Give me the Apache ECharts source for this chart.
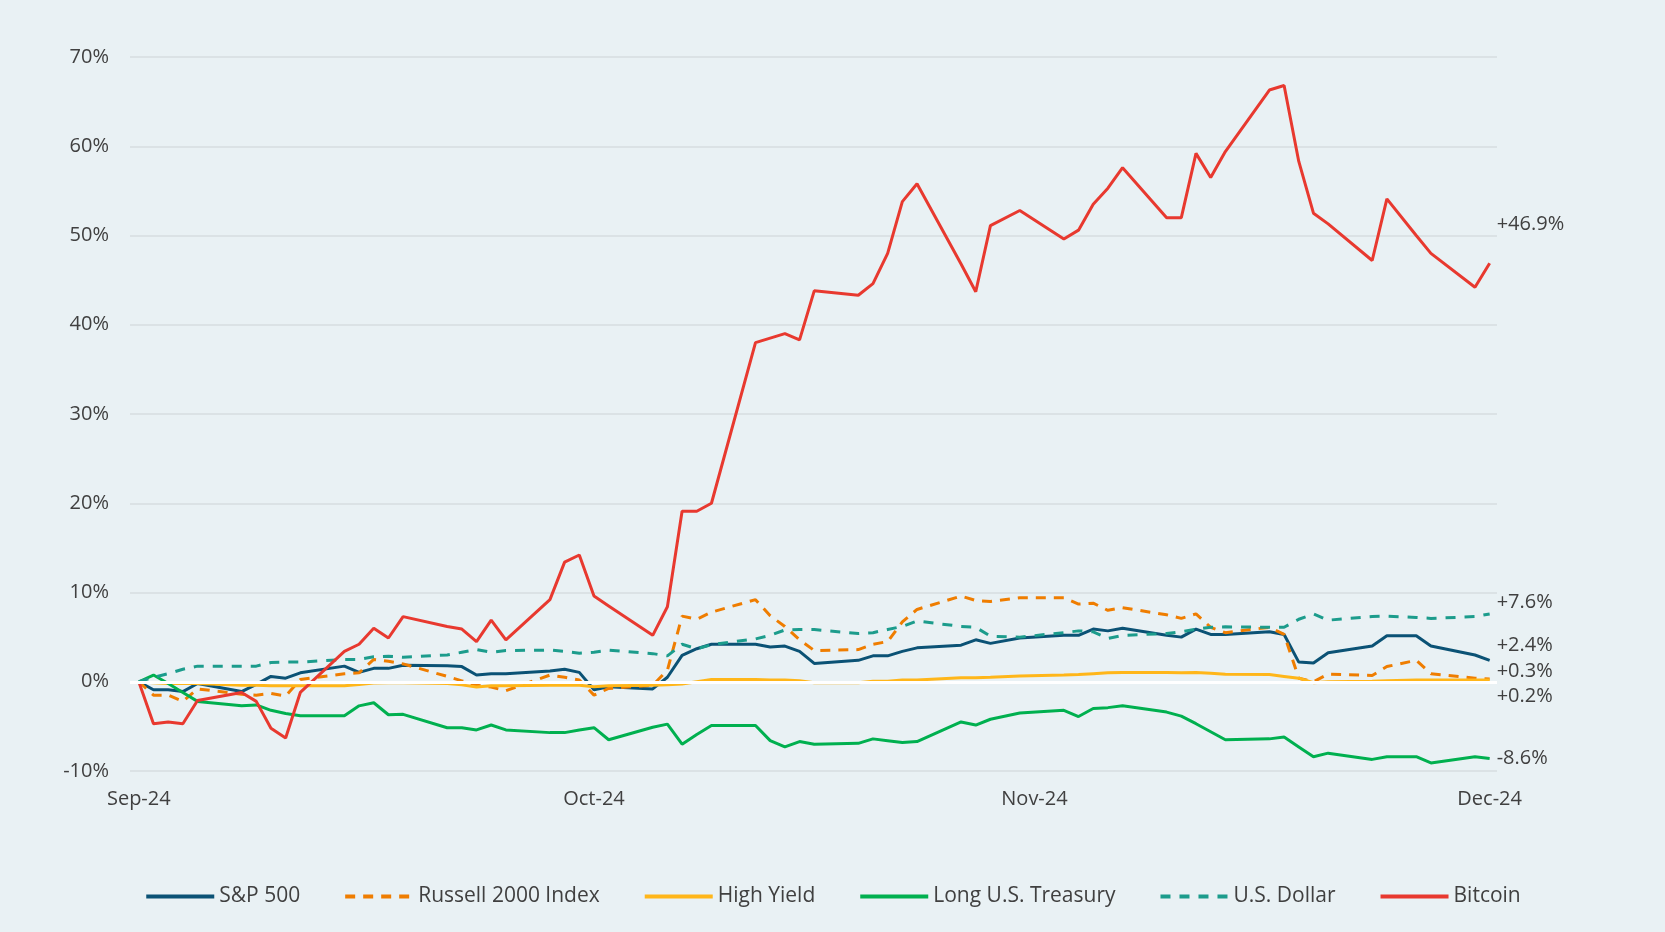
<!DOCTYPE html>
<html>
<head>
<meta charset="utf-8">
<title>Q4 2024 returns</title>
<script src="https://cdn.jsdelivr.net/npm/echarts@6/dist/echarts.min.js"></script>
<style>
  html, body { margin: 0; padding: 0; background: #e9f1f4; }
  #chart { width: 1665px; height: 932px; }
</style>
</head>
<body>
<div id="chart"></div>
<script>
// trading days, Sep 30 - Dec 31 2024
var dates = [
  "2024-09-30", "2024-10-01", "2024-10-02", "2024-10-03", "2024-10-04",
  "2024-10-07", "2024-10-08", "2024-10-09", "2024-10-10", "2024-10-11",
  "2024-10-14", "2024-10-15", "2024-10-16", "2024-10-17", "2024-10-18",
  "2024-10-21", "2024-10-22", "2024-10-23", "2024-10-24", "2024-10-25",
  "2024-10-28", "2024-10-29", "2024-10-30", "2024-10-31", "2024-11-01",
  "2024-11-04", "2024-11-05", "2024-11-06", "2024-11-07", "2024-11-08",
  "2024-11-11", "2024-11-12", "2024-11-13", "2024-11-14", "2024-11-15",
  "2024-11-18", "2024-11-19", "2024-11-20", "2024-11-21", "2024-11-22",
  "2024-11-25", "2024-11-26", "2024-11-27", "2024-11-29",
  "2024-12-02", "2024-12-03", "2024-12-04", "2024-12-05", "2024-12-06",
  "2024-12-09", "2024-12-10", "2024-12-11", "2024-12-12", "2024-12-13",
  "2024-12-16", "2024-12-17", "2024-12-18", "2024-12-19", "2024-12-20",
  "2024-12-23", "2024-12-24", "2024-12-26", "2024-12-27",
  "2024-12-30", "2024-12-31"
];

// cumulative return, %
var sp500 = [
  0, -0.9, -0.9, -1.1, -0.2, -1.1, -0.3, 0.6, 0.4, 1.0,
  1.75, 1.05, 1.5, 1.5, 1.85, 1.8, 1.7, 0.75, 0.9, 0.9,
  1.2, 1.4, 1.05, -0.9, -0.55, -0.8, 0.5, 2.95, 3.7, 4.2,
  4.2, 3.9, 4.0, 3.4, 2.05, 2.4, 2.9, 2.9, 3.4, 3.8,
  4.1, 4.7, 4.3, 4.9, 5.2, 5.2, 5.9, 5.7, 6.0,
  5.2, 5.0, 5.9, 5.3, 5.3, 5.6, 5.3, 2.2, 2.1, 3.25,
  4.0, 5.15, 5.15, 4.0, 3.0, 2.4
];
var russell = [
  0, -1.5, -1.5, -2.2, -0.8, -1.4, -1.5, -1.3, -1.6, 0.25,
  0.9, 1.0, 2.5, 2.3, 2.0, 0.6, 0.1, -0.4, -0.6, -1.0,
  0.75, 0.5, 0.2, -1.5, -0.75, -0.4, 1.3, 7.35, 7.0, 7.8,
  9.2, 7.4, 6.2, 4.7, 3.5, 3.6, 4.2, 4.5, 6.7, 8.1,
  9.6, 9.1, 9.0, 9.4, 9.4, 8.7, 8.8, 8.0, 8.3,
  7.5, 7.1, 7.6, 6.1, 5.5, 6.1, 5.3, 0.4, 0.0, 0.86,
  0.7, 1.7, 2.4, 0.9, 0.4, 0.3
];
var highYield = [
  0, -0.1, -0.2, -0.2, -0.2, -0.4, -0.4, -0.45, -0.45, -0.45,
  -0.45, -0.3, -0.15, -0.1, -0.1, -0.2, -0.35, -0.6, -0.45, -0.45,
  -0.4, -0.4, -0.4, -0.55, -0.45, -0.4, -0.35, -0.25, 0.0, 0.25,
  0.25, 0.2, 0.2, 0.1, -0.1, -0.1, 0.05, 0.05, 0.2, 0.2,
  0.45, 0.45, 0.5, 0.65, 0.75, 0.8, 0.9, 1.0, 1.05,
  1.05, 1.0, 1.05, 0.95, 0.85, 0.8, 0.6, 0.4, -0.1, 0.0,
  0.05, 0.1, 0.2, 0.2, 0.2, 0.2
];
var longTreasury = [
  0, 0.75, -0.2, -1.2, -2.2, -2.7, -2.6, -3.2, -3.55, -3.8,
  -3.8, -2.7, -2.35, -3.7, -3.65, -5.15, -5.15, -5.4, -4.85, -5.4,
  -5.7, -5.7, -5.4, -5.15, -6.5, -5.1, -4.75, -7.0, -5.9, -4.9,
  -4.9, -6.6, -7.3, -6.7, -7.0, -6.9, -6.4, -6.6, -6.8, -6.7,
  -4.5, -4.85, -4.2, -3.5, -3.2, -3.9, -3.0, -2.9, -2.7,
  -3.4, -3.85, -4.7, -5.6, -6.5, -6.4, -6.2, -7.3, -8.4, -8.0,
  -8.7, -8.4, -8.4, -9.1, -8.4, -8.6
];
var usDollar = [
  0, 0.5, 0.9, 1.4, 1.75, 1.75, 1.75, 2.15, 2.2, 2.2,
  2.5, 2.5, 2.8, 2.85, 2.75, 3.0, 3.3, 3.6, 3.3, 3.5,
  3.55, 3.4, 3.2, 3.3, 3.55, 3.15, 2.9, 4.2, 3.7, 4.15,
  4.8, 5.2, 5.8, 5.85, 5.85, 5.4, 5.5, 5.85, 6.2, 6.8,
  6.2, 6.1, 5.1, 5.0, 5.5, 5.7, 5.6, 4.85, 5.2,
  5.4, 5.6, 5.9, 6.1, 6.15, 6.1, 6.1, 7.0, 7.6, 6.9,
  7.3, 7.35, 7.2, 7.1, 7.3, 7.6
];
var bitcoin = [
  0, -4.7, -4.5, -4.7, -2.1, -1.2, -2.2, -5.2, -6.3, -1.2,
  3.4, 4.2, 6.0, 4.9, 7.3, 6.2, 5.9, 4.5, 6.9, 4.7,
  9.2, 13.4, 14.2, 9.6, 8.5, 5.2, 8.4, 19.1, 19.1, 20.0,
  38.0, 38.5, 39.0, 38.3, 43.8, 43.3, 44.6, 48.0, 53.8, 55.8,
  46.8, 43.7, 51.1, 52.8, 49.6, 50.6, 53.5, 55.3, 57.6,
  52.0, 52.0, 59.2, 56.5, 59.4, 66.3, 66.8, 58.3, 52.5, 51.3,
  47.2, 54.1, 50.0, 48.0, 44.2, 46.9
];

var seriesNames = ["S&P 500", "Russell 2000 Index", "High Yield", "Long U.S. Treasury", "U.S. Dollar", "Bitcoin"];
var seriesData = [sp500, russell, highYield, longTreasury, usDollar, bitcoin];
var seriesColors = ["#0b5275", "#ef7d00", "#ffb619", "#00b04f", "#1c9c8c", "#e8392f"];
var seriesDash = ["solid", [10, 8], "solid", "solid", [10, 9], "solid"];
// vertical nudge of the end labels
var labelShift = [-15, -8, 16, 0, -12, -39];

// month-end ticks
var tickDates = ["2024-09-30", "2024-10-31", "2024-11-30", "2024-12-31"];
var monthNames = ["Jan", "Feb", "Mar", "Apr", "May", "Jun", "Jul", "Aug", "Sep", "Oct", "Nov", "Dec"];

var DAY = 86400000;
function toTime(s) {
  var p = s.split("-");
  return Date.UTC(+p[0], +p[1] - 1, +p[2]);
}
var t0 = toTime(dates[0]);
// days since Sep 30
function dayNum(s) {
  return Math.round((toTime(s) - t0) / DAY);
}

var fontFam = "'Open Sans', 'DejaVu Sans', sans-serif";
var textColor = "#404040";

var seriesList = seriesNames.map(function (name, i) {
  return {
    name: name,
    type: "line",
    symbol: "none",
    z: 3,
    color: seriesColors[i],
    lineStyle: { width: 3, type: seriesDash[i], color: seriesColors[i] },
    data: dates.map(function (d, k) {
      return [dayNum(d), seriesData[i][k]];
    }),
    endLabel: {
      show: true,
      formatter: function (p) {
        var v = p.value[1];
        return (v >= 0 ? "+" : "") + v.toFixed(1) + "%";
      },
      color: textColor,
      fontSize: 20,
      fontFamily: fontFam,
      distance: 7,
      offset: [0, labelShift[i]],
    },
  };
});

// white zero line, drawn under the data lines
seriesList.push({
  name: "zero",
  type: "line",
  z: 1,
  silent: true,
  data: [],
  markLine: {
    silent: true,
    symbol: "none",
    label: { show: false },
    lineStyle: { color: "#ffffff", width: 3, type: "solid" },
    data: [{ yAxis: 0 }],
  },
});

var myChart = echarts.init(document.getElementById("chart"));
var option = {
  backgroundColor: "#e9f1f4",
  animation: false,
  grid: {
    left: 130,
    right: 168,
    top: 57,
    bottom: 161,
  },
  legend: {
    data: seriesNames,
    bottom: 20,
    left: "center",
    itemWidth: 68,
    itemHeight: 14,
    itemGap: 43,
    itemStyle: { opacity: 0 },
    lineStyle: { width: 4 },
    textStyle: { fontSize: 21, color: textColor, fontFamily: fontFam },
  },
  xAxis: {
    type: "value",
    min: -0.6,
    max: dayNum(dates[dates.length - 1]) + 0.5,
    axisLine: { show: false },
    axisTick: { show: false },
    splitLine: { show: false },
    axisLabel: {
      customValues: tickDates.map(dayNum),
      formatter: function (val) {
        var d = new Date(t0 + val * DAY);
        return monthNames[d.getUTCMonth()] + "-" + String(d.getUTCFullYear()).slice(2);
      },
      fontSize: 20,
      color: textColor,
      fontFamily: fontFam,
      margin: 18,
      hideOverlap: false,
    },
  },
  yAxis: {
    type: "value",
    min: -10,
    max: 70,
    interval: 10,
    axisLine: { show: false },
    axisTick: { show: false },
    axisLabel: {
      formatter: "{value}%",
      fontSize: 20,
      color: textColor,
      fontFamily: fontFam,
      margin: 21,
    },
    splitLine: { lineStyle: { color: "#d6dde1", width: 1.5 } },
  },
  series: seriesList,
};
myChart.setOption(option);
</script>
</body>
</html>
